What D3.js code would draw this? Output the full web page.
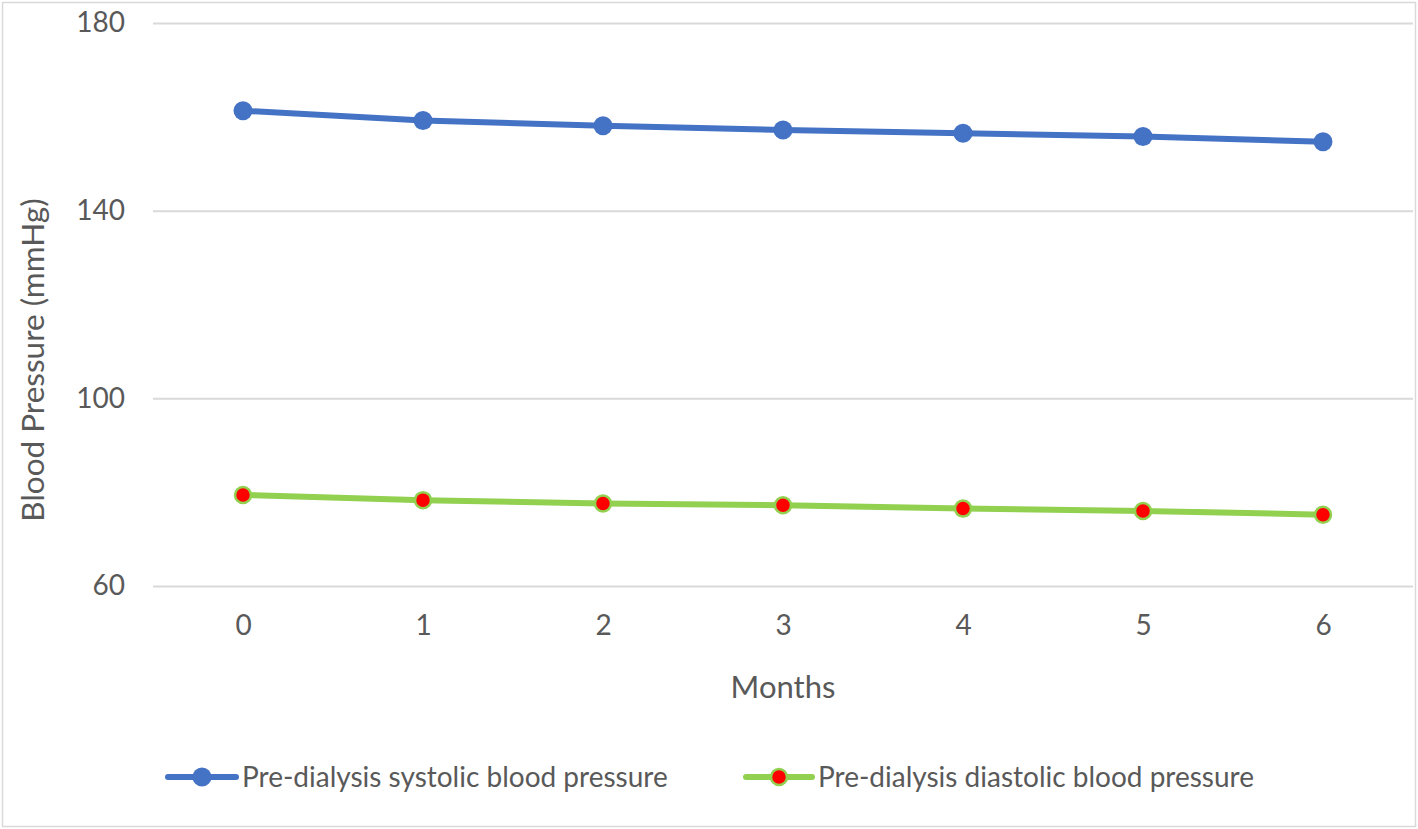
<!DOCTYPE html>
<html><head><meta charset="utf-8">
<script src="https://cdn.jsdelivr.net/npm/d3@7"></script>
<style>
html,body{margin:0;padding:0;background:#fff;}
svg text{font-family:Lato,"Noto Sans",sans-serif;fill:#595959;}
</style></head>
<body><svg id="chart" width="1418" height="829"></svg>
<script>
const months = ["0","1","2","3","4","5","6"];
const systolic = [161.3, 159.2, 158.1, 157.2, 156.5, 155.8, 154.7];
const diastolic = [79.4, 78.3, 77.6, 77.2, 76.5, 76.0, 75.2];
const yTicks = [60, 100, 140, 180];
const seriesNames = ["Pre-dialysis systolic blood pressure", "Pre-dialysis diastolic blood pressure"];

const svg = d3.select("#chart");
svg.append("rect").attr("x",2.5).attr("y",2.5).attr("width",1413).attr("height",824)
  .attr("fill","#fff").attr("stroke","#d9d9d9").attr("stroke-width",1.5);

const x = d3.scalePoint().domain(months).range([153,1413]).padding(0.5);
const y = d3.scaleLinear().domain([60,180]).range([586,23]);

const yAxis = d3.axisLeft(y).tickValues(yTicks).tickSize(-1260).tickPadding(28).tickFormat(d3.format("d"));
const gy = svg.append("g").attr("transform","translate(153,0)").call(yAxis);
gy.select(".domain").remove();
gy.selectAll(".tick line").attr("stroke","#d9d9d9").attr("stroke-width",2);
gy.selectAll(".tick text").attr("font-size",28).attr("font-family","Lato").attr("fill","#595959");

const xAxis = d3.axisBottom(x).tickSize(0).tickPadding(29);
const gx = svg.append("g").attr("transform","translate(0,586)").call(xAxis);
gx.select(".domain").remove();
gx.selectAll(".tick text").attr("font-size",28).attr("font-family","Lato").attr("fill","#595959");

svg.append("text").attr("x",x("3")).attr("y",698).attr("text-anchor","middle")
  .attr("font-size",31).text("Months");
svg.append("text").attr("transform","translate(44,360) rotate(-90)").attr("text-anchor","middle")
  .attr("font-size",31.5).text("Blood Pressure (mmHg)");

const line = d3.line().x((d,i)=>x(months[i])).y(d=>y(d));

svg.append("path").datum(systolic).attr("d",line).attr("fill","none")
  .attr("stroke","#4472c4").attr("stroke-width",6).attr("stroke-linejoin","round");
svg.selectAll(".sp").data(systolic).enter().append("circle")
  .attr("cx",(d,i)=>x(months[i])).attr("cy",d=>y(d)).attr("r",9.5).attr("fill","#4472c4");

svg.append("path").datum(diastolic).attr("d",line).attr("fill","none")
  .attr("stroke","#92d050").attr("stroke-width",6).attr("stroke-linejoin","round");
svg.selectAll(".dp").data(diastolic).enter().append("circle")
  .attr("cx",(d,i)=>x(months[i])).attr("cy",d=>y(d)).attr("r",8).attr("fill","#ff0000")
  .attr("stroke","#92d050").attr("stroke-width",2.5);

const legendY = 777;
const leg = [
  {x0:168, x1:236, text:seriesNames[0], color:"#4472c4", fill:"#4472c4", r:9.5, sw:0},
  {x0:746, x1:812, text:seriesNames[1], color:"#92d050", fill:"#ff0000", r:8, sw:2.5}
];
leg.forEach(l=>{
  svg.append("line").attr("x1",l.x0).attr("x2",l.x1).attr("y1",legendY).attr("y2",legendY)
    .attr("stroke",l.color).attr("stroke-width",6).attr("stroke-linecap","round");
  svg.append("circle").attr("cx",(l.x0+l.x1)/2).attr("cy",legendY).attr("r",l.r)
    .attr("fill",l.fill).attr("stroke",l.sw?l.color:"none").attr("stroke-width",l.sw);
  svg.append("text").attr("x",l.x1+6).attr("y",legendY).attr("dy","0.35em")
    .attr("font-size",28).text(l.text);
});
</script></body></html>
